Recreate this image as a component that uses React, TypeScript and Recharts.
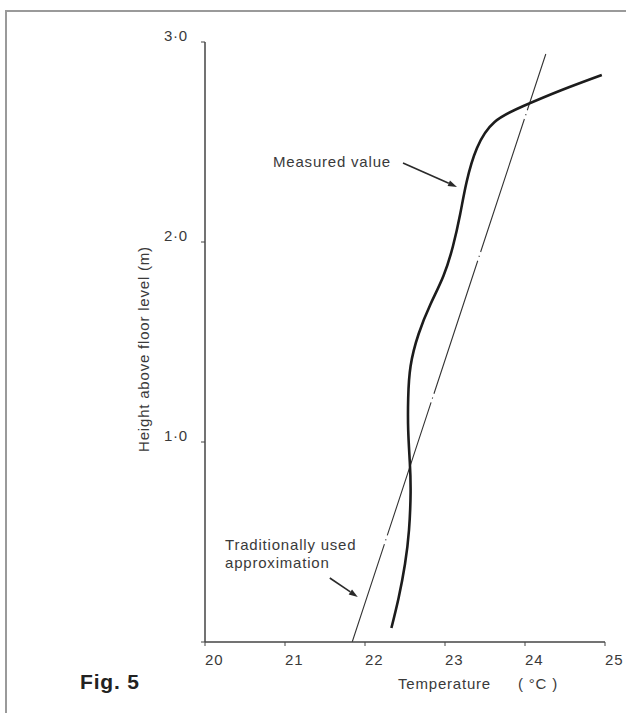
import { LineChart, Line, XAxis, YAxis, ReferenceLine } from 'recharts'

// measured profile (temperature °C vs height m)
const measuredTemp = [22.33, 22.42, 22.5, 22.55, 22.57, 22.56, 22.54, 22.54, 22.57, 22.67, 22.82, 22.98, 23.1, 23.19, 23.27, 23.4, 23.62, 23.98, 24.46, 24.96]
const measuredHeight = [0.07, 0.22, 0.39, 0.56, 0.75, 0.9, 1.06, 1.22, 1.38, 1.54, 1.69, 1.83, 1.98, 2.14, 2.3, 2.47, 2.6, 2.68, 2.76, 2.835]

// traditionally used linear approximation
const approxTemp = [21.84, 24.26]
const approxHeight = [0, 2.94]

const xTicks = [20, 21, 22, 23, 24, 25]
const yTicks = [0, 1, 2, 3]

const measured = measuredTemp.map((t, i) => ({ t, h: measuredHeight[i] }))
const approx = approxTemp.map((t, i) => ({ t, h: approxHeight[i] }))

const FONT = '"Liberation Sans", Arial, Helvetica, sans-serif'
const INK = '#3a3a3a'

const XTick = (p: any) => (
  <text x={p.x} y={p.y + 17} textAnchor="start" fontSize={15} letterSpacing={0.8} fill={INK} fontFamily={FONT}>
    {p.payload.value}
  </text>
)

const YTick = (p: any) =>
  p.payload.value === 0 ? null : (
    <text x={p.x} y={p.y - 1} textAnchor="end" fontSize={15} letterSpacing={0.8} fill={INK} fontFamily={FONT}>
      {p.payload.value.toFixed(1).replace('.', '·')}
    </text>
  )

const Arrow = (p: any) => {
  const { x1, y1, x2, y2 } = p
  const a = Math.atan2(y2 - y1, x2 - x1)
  const len = 9
  const w = 3
  const bx = x2 - len * Math.cos(a)
  const by = y2 - len * Math.sin(a)
  const pts = `${x2},${y2} ${bx + w * Math.sin(a)},${by - w * Math.cos(a)} ${bx - w * Math.sin(a)},${by + w * Math.cos(a)}`
  return (
    <g>
      <line x1={x1} y1={y1} x2={bx} y2={by} stroke="#2a2a2a" strokeWidth={1.6} />
      <polygon points={pts} fill="#2a2a2a" />
    </g>
  )
}

export default function App() {
  return (
    <div style={{ position: 'absolute', left: 0, top: 0, width: 626, height: 713, background: '#fff', overflow: 'hidden', fontFamily: FONT }}>
      <div style={{ position: 'absolute', left: 5, top: 10, width: 640, height: 720, borderLeft: '2px solid #9a9a9a', borderTop: '2px solid #9a9a9a' }} />
      <LineChart width={626} height={713} margin={{ top: 42, right: 21, bottom: 41, left: 145 }}>
        <XAxis
          type="number"
          dataKey="t"
          domain={[20, 25]}
          ticks={xTicks}
          allowDataOverflow
          height={30}
          tickSize={4}
          tick={XTick}
          axisLine={{ stroke: '#444', strokeWidth: 1.5 }}
          tickLine={{ stroke: '#444' }}
        />
        <YAxis
          type="number"
          dataKey="h"
          domain={[0, 3]}
          ticks={yTicks}
          allowDataOverflow
          width={60}
          tickSize={4}
          tickMargin={13}
          tick={YTick}
          axisLine={{ stroke: '#444', strokeWidth: 1.5 }}
          tickLine={{ stroke: '#444' }}
        />
        <Line
          data={approx}
          dataKey="h"
          type="linear"
          stroke="#333"
          strokeWidth={1.1}
          strokeDasharray="140 4 1.2 4"
          strokeDashoffset={37}
          dot={false}
          isAnimationActive={false}
        />
        <Line
          data={measured}
          dataKey="h"
          type="natural"
          stroke="#1c1c1c"
          strokeWidth={2.6}
          dot={false}
          isAnimationActive={false}
        />
        <ReferenceLine segment={[{ x: 22.475, y: 2.395 }, { x: 23.15, y: 2.275 }]} shape={Arrow} />
        <ReferenceLine segment={[{ x: 21.56, y: 0.32 }, { x: 21.91, y: 0.225 }]} shape={Arrow} />
      </LineChart>
      <svg width={626} height={713} style={{ position: 'absolute', left: 0, top: 0, pointerEvents: 'none' }}>
        <g fontFamily={FONT} fontSize={15} letterSpacing={0.8} fill={INK}>
          <text x={273} y={167}>Measured value</text>
          <text x={225} y={550}>Traditionally used</text>
          <text x={225} y={568}>approximation</text>
          <text x={398} y={689}>Temperature</text>
          <text x={518} y={689}>( °C )</text>
          <text transform="translate(149,349) rotate(-90)" textAnchor="middle">Height above floor level (m)</text>
        </g>
        <text x={80} y={689} fontFamily={FONT} fontSize={21} fontWeight="bold" letterSpacing={0.8} fill="#222">
          Fig. 5
        </text>
      </svg>
    </div>
  )
}
